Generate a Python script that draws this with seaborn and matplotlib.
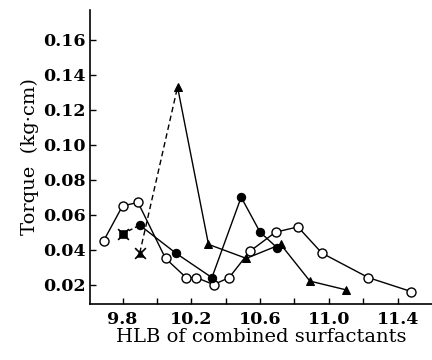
import matplotlib
matplotlib.use("Agg")
import matplotlib.pyplot as plt
import seaborn as sns
import pandas as pd

# open circles
hlb_open = [9.69, 9.80, 9.89, 10.05, 10.17, 10.23, 10.33, 10.42, 10.54, 10.69, 10.82, 10.96, 11.23, 11.48]
torque_open = [0.045, 0.065, 0.067, 0.035, 0.024, 0.024, 0.020, 0.024, 0.039, 0.050, 0.053, 0.038, 0.024, 0.016]

# filled circles
hlb_fill = [9.80, 9.90, 10.11, 10.32, 10.49, 10.60, 10.70]
torque_fill = [0.049, 0.054, 0.038, 0.024, 0.070, 0.050, 0.041]

# filled triangles
hlb_tri = [9.90, 10.12, 10.30, 10.52, 10.72, 10.89, 11.10]
torque_tri = [0.038, 0.133, 0.043, 0.035, 0.043, 0.022, 0.017]

xticks = [9.8, 10.2, 10.6, 11.0, 11.4]
minor_xticks = [10.0, 10.4, 10.8, 11.2]
yticks = [0.02, 0.04, 0.06, 0.08, 0.10, 0.12, 0.14, 0.16]

sns.set_theme(style="ticks")
plt.rcParams['font.family'] = ['DejaVu Serif']

fig = plt.figure(figsize=(4.32, 3.6), dpi=100)
ax = fig.add_axes([0.208, 0.156, 0.792, 0.816])

df_open = pd.DataFrame({"x": hlb_open, "y": torque_open})
df_fill = pd.DataFrame({"x": hlb_fill, "y": torque_fill})
df_tri = pd.DataFrame({"x": hlb_tri, "y": torque_tri})

lw = 1.0
# open circles
sns.lineplot(data=df_open, x="x", y="y", ax=ax, color="black", lw=lw,
             marker="o", markersize=6.5, markerfacecolor="white",
             markeredgecolor="black", markeredgewidth=1.0, sort=False)

# filled circles: dashed first segment, then solid
sns.lineplot(data=df_fill.iloc[:2], x="x", y="y", ax=ax, color="black", lw=lw,
             linestyle=(0, (3, 2)), sort=False)
sns.lineplot(data=df_fill.iloc[1:], x="x", y="y", ax=ax, color="black", lw=lw,
             marker="o", markersize=6, markerfacecolor="black",
             markeredgecolor="black", sort=False)
sns.scatterplot(data=df_fill.iloc[:1], x="x", y="y", ax=ax, color="black",
                marker="s", s=36, edgecolor="black", zorder=5)
sns.scatterplot(data=df_fill.iloc[:1], x="x", y="y", ax=ax, color="black",
                marker="x", s=60, linewidth=1.2, zorder=5)

# triangles: dashed first segment, then solid
sns.lineplot(data=df_tri.iloc[:2], x="x", y="y", ax=ax, color="black", lw=lw,
             linestyle=(0, (4, 2.5)), sort=False)
sns.lineplot(data=df_tri.iloc[1:], x="x", y="y", ax=ax, color="black", lw=lw,
             marker="^", markersize=6, markerfacecolor="black",
             markeredgecolor="black", sort=False)
sns.scatterplot(data=df_tri.iloc[:1], x="x", y="y", ax=ax, color="black",
                marker="^", s=30, edgecolor="black", zorder=5)
sns.scatterplot(data=df_tri.iloc[:1], x="x", y="y", ax=ax, color="black",
                marker="x", s=60, linewidth=1.2, zorder=5)

ax.set_xlim(9.61, 11.6)
ax.set_ylim(0.009, 0.177)
ax.set_xticks(xticks)
ax.set_xticklabels([f"{v:.1f}" for v in xticks])
ax.set_xticks(minor_xticks, minor=True)
ax.set_yticks(yticks)
ax.set_yticklabels([f"{v:.2f}" for v in yticks])
ax.tick_params(axis="both", which="both", direction="in", length=4, width=1,
               colors="black", labelsize=12.5)
ax.tick_params(axis="x", pad=5)
ax.tick_params(axis="y", pad=3)
for lab in ax.get_xticklabels() + ax.get_yticklabels():
    lab.set_fontweight("bold")

sns.despine(ax=ax)
for s in ["left", "bottom"]:
    ax.spines[s].set_linewidth(1.2)
    ax.spines[s].set_color("black")

ax.set_xlabel("HLB of combined surfactants", fontsize=14, labelpad=0, color="black")
ax.set_ylabel("Torque  (kg·cm)", fontsize=14, labelpad=3, color="black")

fig.savefig("out.png", dpi=100, facecolor="white")
